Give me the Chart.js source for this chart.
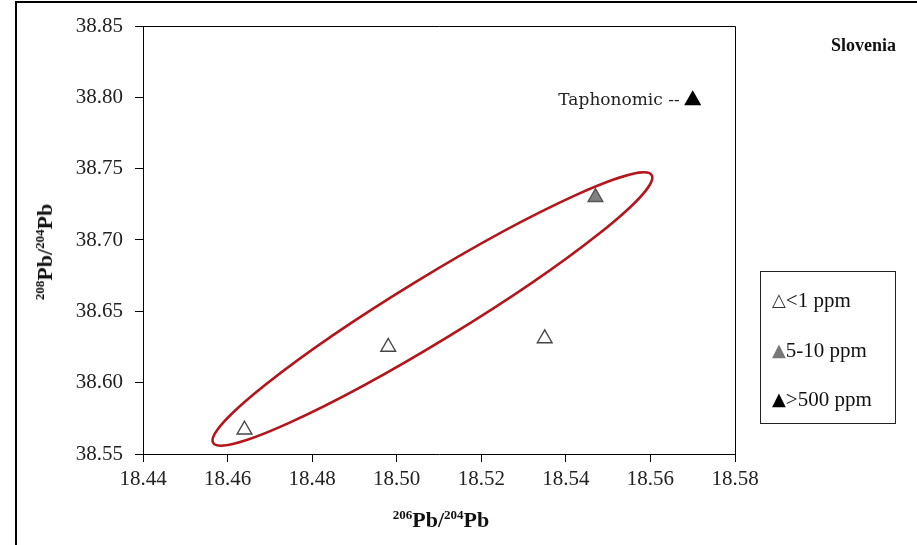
<!DOCTYPE html>
<html>
<head>
<meta charset="utf-8">
<script src="https://cdn.jsdelivr.net/npm/chart.js@4.4.0/dist/chart.umd.min.js"></script>
<style>
  html, body { margin: 0; padding: 0; background: #fff; }
  #wrap { position: relative; width: 917px; height: 545px; overflow: hidden; }
  canvas { position: absolute; left: 0; top: 0; }
  .txt { position: absolute; font-family: "Liberation Serif", "Times New Roman", serif; color: #111; white-space: nowrap; }
  .ttl { font-weight: bold; font-size: 22px; }
  .ttl sup { font-size: 13px; vertical-align: 0; position: relative; top: -8px; }
  #xtitle { left: 441px; top: 520px; transform: translate(-50%, -50%); }
  #ytitle { left: 45px; top: 252px; transform: translate(-50%, -50%) rotate(-90deg); }
  #country { right: 21px; top: 45px; transform: translateY(-50%); font-weight: bold; font-size: 18px; }
  #legend { position: absolute; left: 760px; top: 271px; width: 134px; height: 151px; border: 1px solid #222; font-family: "Liberation Serif", "Times New Roman", serif; font-size: 21px; color: #111; }
  #legend .item { position: absolute; left: 11px; transform: translateY(-50%); white-space: nowrap; }
  #legend .sym { font-family: "DejaVu Sans", sans-serif; font-size: 18px; margin-right: 0px; position: relative; top: -1px; }
</style>
</head>
<body>
<div id="wrap">
  <canvas id="c" width="917" height="545"></canvas>
  <div class="txt ttl" id="xtitle"><sup>206</sup>Pb/<sup>204</sup>Pb</div>
  <div class="txt ttl" id="ytitle"><sup>208</sup>Pb/<sup>204</sup>Pb</div>
  <div class="txt" id="country">Slovenia</div>
  <div id="legend"></div>
</div>
<script>
// ---- data ----
const seriesNames = ["<1 ppm", "5-10 ppm", ">500 ppm"];
const lowX = [18.464, 18.498, 18.535];
const lowY = [38.567, 38.625, 38.631];
const midX = [18.547];
const midY = [38.730];
const highX = [18.570];
const highY = [38.798];
const xTicks = [18.44, 18.46, 18.48, 18.50, 18.52, 18.54, 18.56, 18.58];
const yTicks = [38.55, 38.60, 38.65, 38.70, 38.75, 38.80, 38.85];
const pointNote = "Taphonomic --";
const countryName = "Slovenia";
// ellipse annotation: major-axis tips in data units
const ellipseTipA = [18.4566, 38.5578];
const ellipseTipB = [18.5603, 38.7455];
const ellipseMinorRatio = 0.124;

const toPts = (xs, ys) => xs.map((x, i) => ({ x: x, y: ys[i] }));

const fills = ["#ffffff", "#808080", "#000000"];
const strokes = ["#444444", "#555555", "#000000"];
const symbols = ["\u25B3", "\u25B2", "\u25B2"];
const symColors = ["#333333", "#777777", "#000000"];

const framePlugin = {
  id: 'frame',
  beforeDraw(chart) {
    const ctx = chart.ctx;
    ctx.save();
    ctx.fillStyle = '#fff';
    ctx.fillRect(0, 0, chart.width, chart.height);
    ctx.strokeStyle = '#000';
    ctx.lineWidth = 2;
    ctx.beginPath();
    ctx.moveTo(16, chart.height);
    ctx.lineTo(16, 2);
    ctx.lineTo(chart.width, 2);
    ctx.stroke();
    ctx.restore();
  },
  beforeDatasetsDraw(chart) {
    const ctx = chart.ctx, xs = chart.scales.x, ys = chart.scales.y;
    const ax = xs.getPixelForValue(ellipseTipA[0]), ay = ys.getPixelForValue(ellipseTipA[1]);
    const bx = xs.getPixelForValue(ellipseTipB[0]), by = ys.getPixelForValue(ellipseTipB[1]);
    const cx = (ax + bx) / 2, cy = (ay + by) / 2;
    const a = Math.hypot(bx - ax, by - ay) / 2;
    const rot = Math.atan2(by - ay, bx - ax);
    ctx.save();
    ctx.strokeStyle = '#b3151b';
    ctx.lineWidth = 2.6;
    ctx.beginPath();
    ctx.ellipse(cx, cy, a, a * ellipseMinorRatio, rot, 0, Math.PI * 2);
    ctx.stroke();
    ctx.restore();
  },
  afterDatasetsDraw(chart) {
    const ctx = chart.ctx, area = chart.chartArea;
    ctx.save();
    ctx.strokeStyle = '#000';
    ctx.lineWidth = 1;
    ctx.beginPath();
    ctx.moveTo(area.left, area.top + 0.5);
    ctx.lineTo(area.right + 0.5, area.top + 0.5);
    ctx.lineTo(area.right + 0.5, area.bottom);
    ctx.stroke();
    const el = chart.getDatasetMeta(2).data[0];
    ctx.fillStyle = '#222';
    ctx.font = '17px "DejaVu Serif", serif';
    ctx.textAlign = 'right';
    ctx.textBaseline = 'middle';
    ctx.fillText(pointNote, el.x - 13, el.y);
    ctx.restore();
  }
};

const datasets = [toPts(lowX, lowY), toPts(midX, midY), toPts(highX, highY)].map((d, i) => ({
  label: seriesNames[i],
  data: d,
  pointStyle: 'triangle',
  pointRadius: 8.5,
  pointHoverRadius: 8.5,
  backgroundColor: fills[i],
  borderColor: strokes[i],
  borderWidth: 1.4,
  showLine: false
}));

const tickFont = { family: '"Liberation Serif", "Times New Roman", serif', size: 21 };

new Chart(document.getElementById('c'), {
  type: 'scatter',
  data: { datasets },
  plugins: [framePlugin],
  options: {
    responsive: false,
    animation: false,
    events: [],
    layout: { padding: { top: 26, right: 182, left: 0, bottom: 0 } },
    plugins: { legend: { display: false }, tooltip: { enabled: false } },
    scales: {
      x: {
        type: 'linear',
        min: xTicks[0], max: xTicks[xTicks.length - 1],
        afterBuildTicks: s => { s.ticks = xTicks.map(v => ({ value: v })); },
        afterFit: s => { s.height = 91; },
        grid: { drawOnChartArea: false, drawTicks: true, tickLength: 8, color: '#000' },
        border: { display: true, color: '#000', width: 1 },
        ticks: { font: tickFont, color: '#222', padding: 5, maxRotation: 0, callback: v => Number(v).toFixed(2) }
      },
      y: {
        type: 'linear',
        min: yTicks[0], max: yTicks[yTicks.length - 1],
        afterBuildTicks: s => { s.ticks = yTicks.map(v => ({ value: v })); },
        afterFit: s => { s.width = 143; },
        grid: { drawOnChartArea: false, drawTicks: true, tickLength: 8, color: '#000' },
        border: { display: true, color: '#000', width: 1 },
        ticks: { font: tickFont, color: '#222', padding: 12, callback: v => Number(v).toFixed(2) }
      }
    }
  }
});

document.getElementById('country').textContent = countryName;
const legend = document.getElementById('legend');
const legendY = [28, 78, 127];
seriesNames.forEach((name, i) => {
  const div = document.createElement('div');
  div.className = 'item';
  div.style.top = legendY[i] + 'px';
  const s = document.createElement('span');
  s.className = 'sym';
  s.style.color = symColors[i];
  s.textContent = symbols[i];
  div.appendChild(s);
  div.appendChild(document.createTextNode(name));
  legend.appendChild(div);
});
</script>
</body>
</html>
